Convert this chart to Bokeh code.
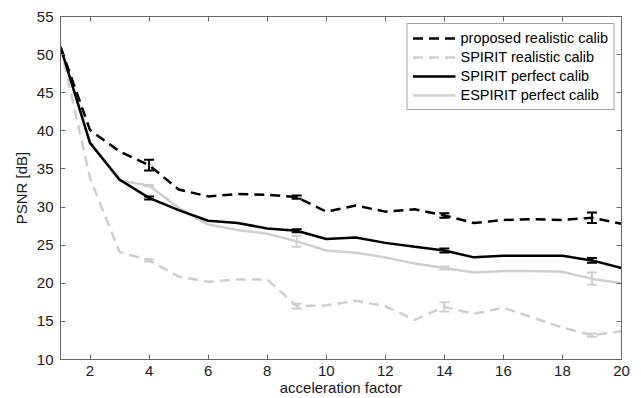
from bokeh.plotting import figure
from bokeh.models import (ColumnDataSource, Whisker, TeeHead, Legend, LegendItem,
                          LinearAxis, FixedTicker, CustomLabelingPolicy)
from bokeh.embed import file_html
from bokeh.resources import INLINE

# ---- data ----
accel = list(range(1, 21))
proposed_real = [51.0, 40.1, 37.3, 35.5, 32.3, 31.4, 31.7, 31.6, 31.3, 29.4,
                 30.2, 29.4, 29.7, 28.9, 27.9, 28.3, 28.4, 28.3, 28.6, 27.8]
spirit_real = [51.0, 33.8, 24.1, 23.0, 20.9, 20.2, 20.5, 20.5, 17.0, 17.1,
               17.7, 17.0, 15.2, 16.9, 16.0, 16.8, 15.5, 14.2, 13.2, 13.7]
spirit_perf = [51.0, 38.4, 33.6, 31.2, 29.6, 28.2, 27.9, 27.2, 26.9, 25.8,
               26.0, 25.3, 24.8, 24.3, 23.4, 23.6, 23.6, 23.6, 23.0, 22.0]
espirit_perf = [51.0, 38.6, 33.5, 32.8, 29.9, 27.7, 27.0, 26.5, 25.5, 24.3,
                24.0, 23.4, 22.6, 22.0, 21.4, 21.6, 21.6, 21.5, 20.6, 20.0]

err_x = [4, 9, 14, 19]
proposed_err = [0.7, 0.2, 0.3, 0.7]
spirit_real_err = [0.15, 0.3, 0.6, 0.2]
spirit_perf_err = [0.2, 0.2, 0.25, 0.3]
espirit_err = [0.1, 0.7, 0.2, 0.8]

x_ticks = [2, 4, 6, 8, 10, 12, 14, 16, 18, 20]
y_ticks = [10, 15, 20, 25, 30, 35, 40, 45, 50, 55]

labels = ["proposed realistic calib", "SPIRIT realistic calib",
          "SPIRIT perfect calib", "ESPIRIT perfect calib"]

FONT = "Liberation Sans"
FS = "15px"
LFS = "14.5px"
AXC = "#6a6a6a"

p = figure(width=641, height=398, x_range=(1, 20), y_range=(10, 55),
           output_backend="svg", toolbar_location=None,
           min_border_left=60, min_border_right=15, min_border_top=16,
           min_border_bottom=37)
p.xgrid.visible = False
p.ygrid.visible = False
p.outline_line_color = AXC
p.background_fill_color = "white"

no_labels = CustomLabelingPolicy(code="for (const i of indices) { if (i < 0) yield i }")

def style_axis(ax, ticks, show_labels=True):
    ax.ticker = FixedTicker(ticks=ticks)
    ax.axis_line_color = AXC
    ax.major_tick_line_color = AXC
    ax.major_tick_in = 5
    ax.major_tick_out = 0
    ax.minor_tick_line_color = None
    ax.major_label_text_font = FONT
    ax.major_label_text_color = "#1a1a1a"
    ax.axis_label_text_font = FONT
    ax.axis_label_text_font_style = "normal"
    ax.axis_label_text_color = "#1a1a1a"
    ax.axis_label_text_font_size = FS
    ax.major_label_text_font_size = FS
    if not show_labels:
        ax.major_label_policy = no_labels
        ax.major_label_standoff = 0

style_axis(p.xaxis[0], x_ticks)
style_axis(p.yaxis[0], y_ticks)
p.xaxis[0].axis_label = "acceleration factor"
p.yaxis[0].axis_label = "PSNR [dB]"
p.xaxis[0].major_label_standoff = 6
p.xaxis[0].axis_label_standoff = 0
p.yaxis[0].major_label_standoff = 7
p.yaxis[0].axis_label_standoff = 4

top_ax = LinearAxis()
style_axis(top_ax, x_ticks, show_labels=False)
p.add_layout(top_ax, "above")
right_ax = LinearAxis()
style_axis(right_ax, y_ticks, show_labels=False)
p.add_layout(right_ax, "right")

LW = 2.5
GRAY = "#cfcfcf"
r_sr = p.line(accel, spirit_real, line_color=GRAY, line_width=LW, line_dash="10 6")
r_ep = p.line(accel, espirit_perf, line_color=GRAY, line_width=LW)
r_sp = p.line(accel, spirit_perf, line_color="black", line_width=LW)
r_pr = p.line(accel, proposed_real, line_color="black", line_width=LW, line_dash="10 6")

def add_err(values, errs, color):
    centers = [values[accel.index(x)] for x in err_x]
    src = ColumnDataSource(dict(x=err_x,
                                upper=[c + e for c, e in zip(centers, errs)],
                                lower=[c - e for c, e in zip(centers, errs)]))
    w = Whisker(base="x", upper="upper", lower="lower", source=src,
                line_color=color, line_width=2,
                upper_head=TeeHead(size=10, line_color=color, line_width=2),
                lower_head=TeeHead(size=10, line_color=color, line_width=2))
    p.add_layout(w)

add_err(spirit_real, spirit_real_err, GRAY)
add_err(espirit_perf, espirit_err, GRAY)
add_err(spirit_perf, spirit_perf_err, "black")
add_err(proposed_real, proposed_err, "black")

legend = Legend(items=[LegendItem(label=labels[0], renderers=[r_pr]),
                       LegendItem(label=labels[1], renderers=[r_sr]),
                       LegendItem(label=labels[2], renderers=[r_sp]),
                       LegendItem(label=labels[3], renderers=[r_ep])],
                location="top_right")
legend.label_text_font = FONT
legend.label_text_font_size = LFS
legend.label_text_color = "black"
legend.glyph_width = 43
legend.glyph_height = 18
legend.label_height = 18
legend.label_standoff = 5
legend.spacing = 1
legend.padding = 5
legend.margin = 7
legend.border_line_color = "#444444"
legend.border_line_width = 1
legend.background_fill_alpha = 1
p.add_layout(legend)

open("out.html", "w").write(file_html(p, INLINE))
